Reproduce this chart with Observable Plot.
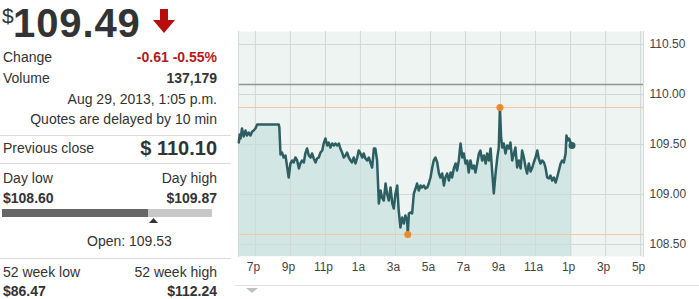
<!DOCTYPE html>
<html><head><meta charset="utf-8">
<script src="https://cdn.jsdelivr.net/npm/d3@7"></script>
<script src="https://cdn.jsdelivr.net/npm/@observablehq/plot@0.6"></script>
<style>
html,body{margin:0;padding:0;background:#fff;}
body{width:699px;height:299px;position:relative;overflow:hidden;font-family:"Liberation Sans",Arial,sans-serif;color:#333;}
.t{position:absolute;font-size:14px;line-height:16px;white-space:nowrap;}
.r{right:482px;text-align:right;}
.b{font-weight:bold;}
.sep{position:absolute;left:0;width:231px;height:1px;background:#dcdcdc;}
#chart{position:absolute;left:235px;top:0;}
</style></head>
<body>
<div class="t" style="left:2px;top:4px;font-size:21px;line-height:24px;">$</div>
<div class="t b" style="left:13px;top:0px;font-size:40px;line-height:46px;letter-spacing:0.9px;">109.49</div>
<svg style="position:absolute;left:152px;top:9px" width="24" height="25"><polygon points="8,0 16,0 16,11 23,11 12,24 1,11 8,11" fill="#b80d0d"/></svg>
<div class="t" style="left:3px;top:49px;">Change</div>
<div class="t r b" style="top:49px;color:#b31b1b;">-0.61 -0.55%</div>
<div class="t" style="left:3px;top:70px;">Volume</div>
<div class="t r b" style="top:70px;">137,179</div>
<div class="t r" style="top:91px;">Aug 29, 2013, 1:05 p.m.</div>
<div class="t r" style="top:111px;">Quotes are delayed by 10 min</div>
<div class="sep" style="top:135px;"></div>
<div class="t" style="left:3px;top:140px;">Previous close</div>
<div class="t r b" style="top:137px;font-size:20px;line-height:22px;">$ 110.10</div>
<div class="sep" style="top:163px;"></div>
<div class="t" style="left:3px;top:170px;">Day low</div>
<div class="t r" style="top:170px;">Day high</div>
<div class="t b" style="left:3px;top:190px;">$108.60</div>
<div class="t r b" style="top:190px;">$109.87</div>
<div style="position:absolute;left:2px;top:209px;width:146px;height:8px;background:#666;"></div>
<div style="position:absolute;left:148px;top:209px;width:64px;height:8px;background:#c8c8c8;"></div>
<svg style="position:absolute;left:149px;top:218px" width="9" height="6"><polygon points="4.5,0 9,5 0,5" fill="#333"/></svg>
<div class="t" style="left:87px;top:233px;">Open: 109.53</div>
<div class="sep" style="top:258px;"></div>
<div class="t" style="left:3px;top:264px;">52 week low</div>
<div class="t r" style="top:264px;">52 week high</div>
<div class="t b" style="left:3px;top:283px;">$86.47</div>
<div class="t r b" style="top:283px;">$112.24</div>
<div style="position:absolute;left:235px;top:285px;width:464px;height:1px;background:#dde3e1;"></div>
<svg style="position:absolute;left:246px;top:288px" width="13" height="6"><polygon points="0,0 12,0 6,5" fill="#b8c2c4"/></svg>
<div id="chart"></div>
<script>
// minutes after 6:00 p.m. (Aug 28, 2013)
const minutes = [3,6,9,14,20,26,31,37,43,49,54,60,66,140,142,146,151,157,163,169,174,180,186,191,197,203,209,214,220,226,231,237,243,249,254,260,266,271,277,283,289,294,300,306,311,317,323,329,334,340,346,351,357,363,369,374,380,386,391,397,403,409,414,420,426,431,437,443,449,454,460,466,471,477,483,489,494,500,506,511,517,523,529,534,540,546,551,557,563,569,574,580,582,586,591,597,603,609,614,620,626,631,637,643,649,654,660,666,671,677,683,689,694,700,706,711,717,723,729,734,740,746,751,757,763,769,774,780,786,791,797,803,809,814,820,826,831,837,843,849,854,860,866,871,877,883,889,894,898,902,906,911,917,923,929,934,940,946,951,957,963,969,974,980,986,991,997,1003,1009,1014,1020,1026,1031,1037,1043,1049,1054,1060,1066,1071,1077,1083,1089,1094,1100,1106,1111,1117,1123,1126,1131,1135,1140,1145];
const prices = [109.52,109.60,109.56,109.66,109.58,109.64,109.59,109.62,109.59,109.63,109.64,109.66,109.70,109.70,109.67,109.40,109.42,109.37,109.39,109.27,109.17,109.31,109.34,109.32,109.37,109.34,109.26,109.31,109.34,109.32,109.41,109.46,109.39,109.37,109.41,109.36,109.32,109.36,109.37,109.42,109.44,109.51,109.56,109.49,109.52,109.47,109.51,109.49,109.51,109.49,109.51,109.46,109.42,109.37,109.39,109.42,109.37,109.34,109.32,109.37,109.31,109.37,109.44,109.41,109.37,109.41,109.36,109.34,109.37,109.32,109.27,109.46,109.46,109.34,108.91,109.04,108.97,108.94,109.11,109.01,108.94,109.07,108.91,108.86,109.01,109.09,108.84,108.67,108.77,108.71,108.79,108.74,108.60,108.81,108.82,108.81,109.01,109.06,109.11,109.04,109.09,109.07,109.09,109.06,109.07,109.11,109.17,109.27,109.34,109.37,109.32,109.21,109.17,109.21,109.09,109.17,109.21,109.14,109.22,109.17,109.26,109.31,109.24,109.34,109.51,109.37,109.41,109.31,109.34,109.22,109.34,109.26,109.29,109.22,109.31,109.41,109.44,109.34,109.39,109.31,109.41,109.34,109.46,109.24,109.01,109.21,109.37,109.47,109.87,109.57,109.47,109.51,109.41,109.49,109.46,109.52,109.34,109.41,109.47,109.27,109.34,109.26,109.44,109.37,109.27,109.21,109.31,109.23,109.27,109.32,109.37,109.44,109.36,109.31,109.34,109.32,109.27,109.17,109.16,109.19,109.14,109.17,109.12,109.17,109.24,109.31,109.34,109.32,109.41,109.59,109.54,109.56,109.52,109.49];
const tickMinutes = [60,180,300,420,540,660,780,900,1020,1140,1260,1380];
const tickLabels = ["7p","9p","11p","1a","3a","5a","7a","9a","11a","1p","3p","5p"];
const priceTicks = [108.5,109.0,109.5,110.0,110.5];
const prevClose = 110.10;
const dayHigh = 109.87;
const dayLow = 108.60;

const data = minutes.map((m,i)=>({m, p: prices[i]}));
const low = d3.least(data, d=>d.p);
const high = d3.greatest(data, d=>d.p);
const last = data[data.length-1];
const yBase = 108.38;

const chart = Plot.plot({
  width: 464, height: 299,
  marginLeft: 3, marginRight: 56, marginTop: 31, marginBottom: 43,
  x: {domain: [2, 1390], label: null},
  y: {domain: [yBase, 110.63], label: null},
  style: {fontFamily: "Liberation Sans, Arial, sans-serif", background: "transparent"},
  marks: [
    Plot.frame({fill: "#eef4f1", stroke: null}),
    Plot.areaY(data, {x: "m", y1: yBase, y2: "p", fill: "#d2e7e3"}),
    Plot.gridX(tickMinutes, {stroke: "#cfd9d5", strokeOpacity: 1}),
    Plot.gridY(priceTicks, {stroke: "#cfd9d5", strokeOpacity: 1}),
    Plot.ruleY([dayHigh, dayLow], {stroke: "#f3c99c", strokeWidth: 1}),
    Plot.ruleY([prevClose], {stroke: "#8e9592", strokeWidth: 1.5}),
    Plot.frame({stroke: "#d5dcda", anchor: "left"}),
    Plot.frame({stroke: "#d5dcda", anchor: "right"}),
    Plot.line(data, {x: "m", y: "p", stroke: "#2c5e62", strokeWidth: 2.5, strokeLinejoin: "round"}),
    Plot.dot([low, high], {x: "m", y: "p", r: 3.5, fill: "#ee8a2a"}),
    Plot.dot([last], {x: "m", y: "p", r: 3.5, fill: "#2c5e62"}),
    Plot.axisY(priceTicks, {anchor: "right", label: null, tickSize: 0, tickPadding: 6, tickFormat: d => d.toFixed(2), fontSize: 12, fill: "#444"}),
    Plot.axisX(tickMinutes, {anchor: "bottom", label: null, tickSize: 0, tickPadding: 6, dx: -2, tickFormat: d => tickLabels[tickMinutes.indexOf(d)], fontSize: 12, fill: "#444"})
  ]
});
document.getElementById("chart").appendChild(chart);
</script>
</body></html>
